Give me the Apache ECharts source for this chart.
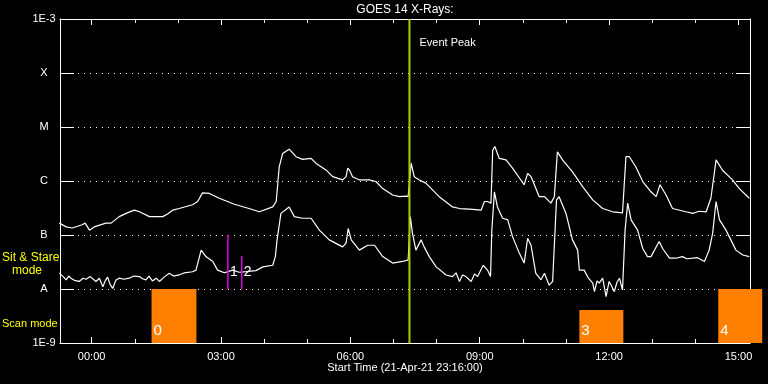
<!DOCTYPE html>
<html>
<head>
<meta charset="utf-8">
<script src="https://cdn.jsdelivr.net/npm/echarts@6/dist/echarts.min.js"></script>
<style>
html,body{margin:0;padding:0;background:#000;}
#chart{width:768px;height:384px;}
</style>
</head>
<body>
<div id="chart"></div>
<script>
// ---- data (time in hours after 00:00 on 22-Apr-21; flux as log10 W/m^2) ----
const xMin = -44 / 60;          // 23:16
const xMax = 15 + 16 / 60;      // 15:16
const hourTicks = [0,1,2,3,4,5,6,7,8,9,10,11,12,13,14,15];
const majorTicks = [0,3,6,9,12,15];
const majorLabels = ['00:00','03:00','06:00','09:00','12:00','15:00'];
const yTickExps = [-9,-8,-7,-6,-5,-4,-3];
const yTickLabels = ['1E-9','A','B','C','M','X','1E-3'];

const longTimes = [-0.75,-0.59,-0.45,-0.22,-0.15,-0.05,0.06,0.33,0.45,0.64,0.80,0.99,1.11,1.34,1.65,1.76,1.88,2.03,2.34,2.46,2.57,2.73,2.96,3.31,3.61,3.89,4.20,4.28,4.35,4.43,4.58,4.74,4.89,5.09,5.20,5.44,5.59,5.82,5.90,5.94,5.98,6.05,6.21,6.44,6.59,6.75,6.98,7.14,7.29,7.34,7.41,7.48,7.60,7.75,8.06,8.37,8.53,8.76,9.03,9.11,9.18,9.26,9.30,9.35,9.45,9.61,9.76,10.03,10.11,10.19,10.38,10.50,10.65,10.73,10.80,10.92,11.15,11.39,11.62,11.85,12.08,12.31,12.39,12.47,12.62,12.78,12.97,13.09,13.18,13.32,13.47,13.78,13.94,14.09,14.25,14.36,14.48,14.63,14.86,15.02,15.25];
const longLog = [-6.78,-6.85,-6.87,-6.81,-6.78,-6.91,-6.85,-6.78,-6.78,-6.66,-6.60,-6.54,-6.57,-6.66,-6.66,-6.61,-6.54,-6.51,-6.44,-6.38,-6.22,-6.23,-6.32,-6.43,-6.50,-6.57,-6.48,-6.38,-5.74,-5.49,-5.41,-5.55,-5.60,-5.58,-5.67,-5.80,-5.92,-5.98,-5.92,-5.76,-5.80,-5.92,-5.98,-5.98,-6.01,-6.14,-6.26,-6.29,-6.28,-6.29,-5.67,-5.92,-5.98,-6.04,-6.29,-6.48,-6.51,-6.52,-6.54,-6.38,-6.38,-6.41,-5.43,-5.36,-5.58,-5.61,-5.76,-6.07,-5.86,-5.92,-6.29,-6.29,-6.41,-6.29,-5.46,-5.61,-5.83,-6.11,-6.35,-6.51,-6.57,-6.59,-5.55,-5.55,-5.74,-6.01,-6.20,-6.29,-6.07,-6.26,-6.51,-6.57,-6.60,-6.56,-6.57,-6.32,-5.61,-5.80,-5.98,-6.14,-6.32];

const shortTimes = [-0.75,-0.71,-0.65,-0.59,-0.53,-0.48,-0.40,-0.29,-0.20,-0.13,-0.03,0.10,0.18,0.26,0.32,0.37,0.43,0.49,0.56,0.64,0.75,0.87,0.98,1.11,1.18,1.26,1.33,1.41,1.50,1.57,1.68,1.80,1.90,2.03,2.15,2.34,2.42,2.54,2.65,2.81,2.92,3.08,3.27,3.42,3.58,3.81,3.97,4.20,4.26,4.30,4.39,4.58,4.70,4.89,5.09,5.28,5.51,5.82,5.90,5.95,6.02,6.21,6.40,6.56,6.75,6.98,7.21,7.34,7.39,7.44,7.52,7.64,7.71,7.83,7.99,8.22,8.37,8.45,8.53,8.60,8.68,8.80,8.88,8.95,9.08,9.18,9.25,9.28,9.34,9.41,9.53,9.65,9.76,9.92,10.03,10.11,10.19,10.30,10.42,10.50,10.61,10.69,10.78,10.84,11.00,11.15,11.27,11.31,11.42,11.52,11.62,11.66,11.72,11.77,11.85,11.93,12.00,12.06,12.12,12.18,12.24,12.31,12.37,12.43,12.51,12.66,12.78,12.89,12.97,13.16,13.24,13.40,13.55,13.70,13.80,13.94,14.05,14.21,14.32,14.40,14.48,14.56,14.71,14.94,15.10,15.25];
const shortLog = [-7.70,-7.71,-7.78,-7.83,-7.76,-7.80,-7.84,-7.86,-7.80,-7.82,-7.77,-7.86,-7.80,-7.96,-7.84,-7.78,-7.92,-7.99,-7.84,-7.80,-7.82,-7.80,-7.76,-7.77,-7.81,-7.83,-7.76,-7.85,-7.80,-7.86,-7.78,-7.71,-7.76,-7.74,-7.70,-7.68,-7.65,-7.28,-7.40,-7.49,-7.65,-7.70,-7.65,-7.69,-7.68,-7.66,-7.59,-7.56,-7.40,-7.09,-6.60,-6.48,-6.66,-6.69,-6.69,-6.91,-7.09,-7.22,-7.15,-6.88,-7.09,-7.28,-7.19,-7.19,-7.40,-7.52,-7.49,-7.46,-6.66,-6.97,-7.28,-7.09,-7.22,-7.40,-7.59,-7.74,-7.77,-7.70,-7.86,-7.74,-7.77,-7.86,-7.72,-7.77,-7.56,-7.65,-7.77,-6.91,-6.20,-6.48,-6.69,-6.72,-7.03,-7.34,-7.52,-7.06,-7.19,-7.71,-7.83,-7.71,-7.93,-7.86,-6.35,-6.29,-6.60,-7.09,-7.28,-7.65,-7.65,-7.80,-7.89,-8.05,-7.85,-7.89,-7.80,-8.14,-7.86,-7.95,-8.05,-7.88,-7.80,-8.02,-6.91,-6.41,-6.72,-6.91,-7.25,-7.40,-7.40,-7.12,-7.25,-7.43,-7.43,-7.40,-7.44,-7.43,-7.42,-7.49,-7.28,-6.97,-6.38,-6.72,-6.91,-7.28,-7.37,-7.40];

const scanStart = [1.39, 11.31, 14.53];
const scanEnd = [2.43, 12.33, 15.55];
const scanTop = [1e-8, 4.1e-9, 1e-8];
const scanLabels = ['0', '3', '4'];

const markTimes = [3.16, 3.48];
const markTop = [1e-7, 4.1e-8];
const markLabels = ['1', '2'];

const eventPeakTime = 7.37;
const eventPeakText = 'Event Peak';

const titleText = 'GOES 14 X-Rays:';
const xTitle = 'Start Time (21-Apr-21 23:16:00)';

// ---- chart ----
const FONT = '"Liberation Sans", Arial, sans-serif';
const longData = longTimes.map((t, i) => [t, Math.pow(10, longLog[i])]);
const shortData = shortTimes.map((t, i) => [t, Math.pow(10, shortLog[i])]);
const scanData = scanStart.map((s, i) => [s, scanEnd[i], scanTop[i], scanLabels[i]]);
const markData = markTimes.map((t, i) => [t, markTop[i], markLabels[i]]);

const chart = echarts.init(document.getElementById('chart'), null, {renderer: 'canvas'});

function xAxisDef(pos, ticks, len, withLine, withLabels) {
  return {
    type: 'value', position: pos, min: xMin, max: xMax,
    axisLine: {show: withLine, onZero: false, lineStyle: {color: '#fff', width: 1}},
    axisTick: {show: true, inside: true, length: len, customValues: ticks, lineStyle: {color: '#fff', width: 1}},
    axisLabel: withLabels ? {
      show: true, customValues: majorTicks, margin: 8, color: '#fff', fontSize: 11, fontFamily: FONT,
      formatter: v => majorLabels[majorTicks.indexOf(Math.round(v))] || ''
    } : {show: false},
    splitLine: {show: false}
  };
}

function yAxisDef(pos, withLabels) {
  return {
    type: 'log', logBase: 10, position: pos, min: 1e-9, max: 1e-3, interval: 1,
    axisLine: {show: true, onZero: false, lineStyle: {color: '#fff', width: 1}},
    axisTick: {show: true, inside: true, length: 14, lineStyle: {color: '#fff', width: 1}},
    axisLabel: withLabels ? {
      show: true, color: '#fff', fontSize: 11, fontFamily: FONT, align: 'center', margin: 16,
      formatter: v => yTickLabels[yTickExps.indexOf(Math.round(Math.log10(v)))] || ''
    } : {show: false},
    splitLine: withLabels ? {show: true, lineStyle: {color: '#fff', width: 1, type: [1, 5]}} : {show: false}
  };
}

const option = {
  backgroundColor: '#000',
  animation: false,
  grid: {left: 60, right: 18, top: 19, bottom: 41, containLabel: false},
  xAxis: [
    xAxisDef('bottom', majorTicks, 6, true, true),
    xAxisDef('bottom', hourTicks, 4, false, false),
    xAxisDef('top', majorTicks, 6, true, false),
    xAxisDef('top', hourTicks, 4, false, false)
  ],
  yAxis: [yAxisDef('left', true), yAxisDef('right', false)],
  graphic: [
    {type: 'text', x: 405, y: 10, style: {text: titleText, fill: '#fff', font: '12px ' + FONT, textAlign: 'center', textVerticalAlign: 'middle'}},
    {type: 'text', x: 405, y: 368, style: {text: xTitle, fill: '#fff', font: '11px ' + FONT, textAlign: 'center', textVerticalAlign: 'middle'}},
    {type: 'text', x: 2, y: 258, style: {text: 'Sit & Stare', fill: '#ffff00', font: '12px ' + FONT, textAlign: 'left', textVerticalAlign: 'middle'}},
    {type: 'text', x: 12, y: 271, style: {text: 'mode', fill: '#ffff00', font: '12px ' + FONT, textAlign: 'left', textVerticalAlign: 'middle'}},
    {type: 'text', x: 2, y: 324, style: {text: 'Scan mode', fill: '#ffff00', font: '11px ' + FONT, textAlign: 'left', textVerticalAlign: 'middle'}}
  ],
  series: [
    {
      type: 'custom', name: 'scans', z: 1, clip: false,
      data: scanData,
      renderItem: (params, api) => {
        const p1 = api.coord([api.value(0), api.value(2)]);
        const p2 = api.coord([api.value(1), 1e-9]);
        return {type: 'group', children: [
          {type: 'rect', shape: {x: p1[0], y: p1[1], width: p2[0] - p1[0], height: p2[1] - p1[1]}, style: {fill: '#ff8000'}},
          {type: 'text', x: p1[0] + 2, y: p2[1] - 5, style: {text: scanData[params.dataIndex][3], fill: '#fff', font: '15px ' + FONT, textAlign: 'left', textVerticalAlign: 'bottom'}}
        ]};
      }
    },
    {
      type: 'line', name: 'long', data: longData, showSymbol: false, symbol: 'none', z: 3,
      lineStyle: {color: '#fff', width: 1.2}
    },
    {
      type: 'line', name: 'short', data: shortData, showSymbol: false, symbol: 'none', z: 3,
      lineStyle: {color: '#fff', width: 1.2}
    },
    {
      type: 'custom', name: 'marks', z: 4,
      data: markData,
      renderItem: (params, api) => {
        const top = api.coord([api.value(0), api.value(1)]);
        const bot = api.coord([api.value(0), 1e-8]);
        return {type: 'group', children: [
          {type: 'line', shape: {x1: top[0], y1: top[1], x2: bot[0], y2: bot[1]}, style: {stroke: '#e000e0', lineWidth: 1.5}},
          {type: 'text', x: bot[0] + 2, y: bot[1] - 17, style: {text: markData[params.dataIndex][2], fill: '#fff', font: '14px ' + FONT, textAlign: 'left', textVerticalAlign: 'middle'}}
        ]};
      }
    },
    {
      type: 'custom', name: 'peak', z: 5,
      data: [[eventPeakTime]],
      renderItem: (params, api) => {
        const top = api.coord([api.value(0), 1e-3]);
        const bot = api.coord([api.value(0), 1e-9]);
        return {type: 'group', children: [
          {type: 'line', shape: {x1: top[0], y1: top[1], x2: bot[0], y2: bot[1]}, style: {stroke: '#a0d000', lineWidth: 2}},
          {type: 'text', x: top[0] + 10, y: top[1] + 24, style: {text: eventPeakText, fill: '#fff', font: '11px ' + FONT, textAlign: 'left', textVerticalAlign: 'middle'}}
        ]};
      }
    }
  ]
};
chart.setOption(option);
</script>
</body>
</html>
